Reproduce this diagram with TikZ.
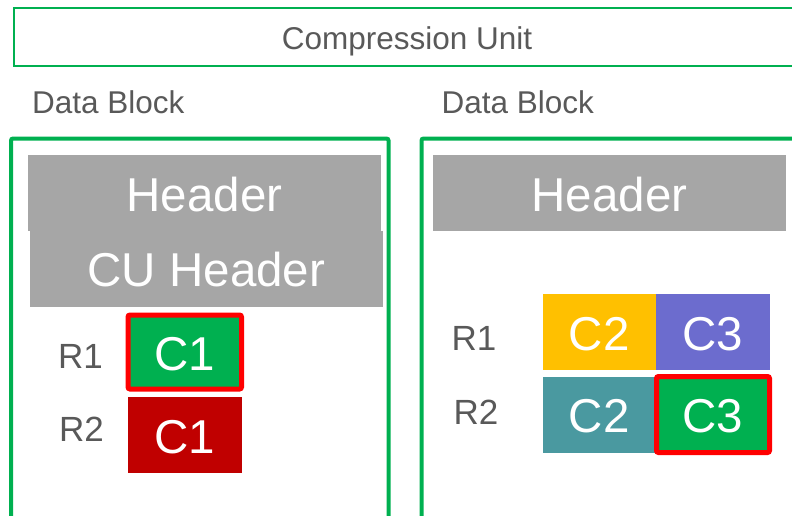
\documentclass[tikz,border=0pt]{standalone}
\usepackage{fontspec}
\setmainfont{Liberation Sans}
\definecolor{okgreen}{HTML}{00B050}
\definecolor{hdrgray}{HTML}{A6A6A6}
\definecolor{labgray}{HTML}{595959}
\definecolor{darkred}{HTML}{C00000}
\definecolor{gold}{HTML}{FFC000}
\definecolor{lavender}{HTML}{6C6CCE}
\definecolor{teal2}{HTML}{4A99A0}
\definecolor{hot}{HTML}{FF0000}
\tikzset{
  px/.style={x=1pt,y=-1pt},
  blockframe/.style={draw=okgreen,line width=4pt,rounded corners=2pt},
  unitframe/.style={draw=okgreen,line width=1.5pt},
  marked/.style={draw=hot,line width=5pt,rounded corners=2pt},
  lab/.style={text=labgray,anchor=base,inner sep=0pt},
  title/.style={lab,font=\fontsize{31.5}{34}\selectfont},
  rowlab/.style={lab,font=\fontsize{35}{38}\selectfont},
  big/.style={text=white,anchor=base,inner sep=0pt,font=\fontsize{47.5}{50}\selectfont},
  hdrtext/.style={big},
}
\begin{document}
\begin{tikzpicture}[px]
\useasboundingbox (0,0) rectangle (792,515);
\clip (0,0) rectangle (792,515);

% compression unit bar
\draw[unitframe] (14,8) rectangle (820,66);
\node[title] (cu) at (407,49.5) {Compression Unit};

% block titles
\node[title,anchor=base west] (dbl) at (32,113.5) {Data Block};
\node[title,anchor=base west] (dbr) at (441.5,113.5) {Data Block};

% left data block
\draw[blockframe] (11,138.5) rectangle (388.5,530);
\fill[hdrgray] (28,155) rectangle (380.5,230.5);
\fill[hdrgray] (30,230.5) rectangle (382.5,306.5);
\node[hdrtext] (hl) at (204.5,211) {Header};
\node[hdrtext] (cuh) at (206.5,286.5) {CU Header};

\node[rowlab] (r1l) at (80.5,368.3) {R1};
\node[rowlab] (r2l) at (81.5,441.7) {R2};

\fill[okgreen] (128,315) rectangle (241.5,389);
\draw[marked] (128,315) rectangle (241.5,389);
\node[big] (c1a) at (184.8,370.5) {C1};
\fill[darkred] (128,397) rectangle (242,473);
\node[big] (c1b) at (185,453) {C1};

% right data block
\draw[blockframe] (421.5,138.5) rectangle (830,530);
\fill[hdrgray] (433,155) rectangle (786,230.5);
\node[hdrtext] (hr) at (609.5,211) {Header};

\node[rowlab] (r1r) at (474,350.7) {R1};
\node[rowlab] (r2r) at (476,424) {R2};

\fill[gold] (543,294) rectangle (655.7,369.7);
\fill[lavender] (655.7,294) rectangle (770,369.7);
\fill[teal2] (543,377.3) rectangle (656,452.7);
\fill[okgreen] (656.5,376.5) rectangle (769.5,452.5);
\draw[marked] (656.5,376.5) rectangle (769.5,452.5);
\node[big] (c2a) at (599.3,350.7) {C2};
\node[big] (c3a) at (712.8,350.7) {C3};
\node[big] (c2b) at (599.3,432.7) {C2};
\node[big] (c3b) at (713,432.7) {C3};
\end{tikzpicture}
\end{document}
